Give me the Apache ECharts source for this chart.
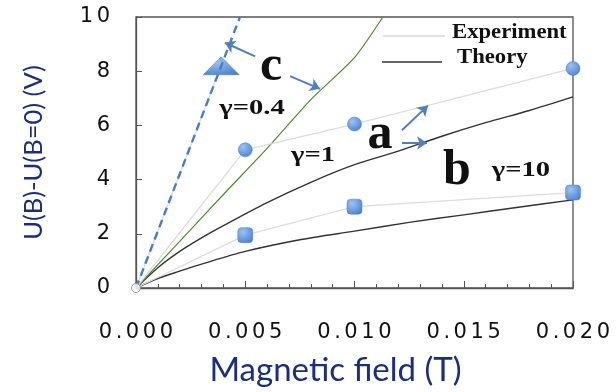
<!DOCTYPE html>
<html>
<head>
<meta charset="utf-8">
<script src="https://cdn.jsdelivr.net/npm/echarts@6/dist/echarts.min.js"></script>
<style>
  html, body { margin: 0; padding: 0; background: #fff; }
  #chart { width: 616px; height: 392px; }
</style>
</head>
<body>
<div id="chart"></div>
<script>
// Hall voltage vs. magnetic field: measured points and model curves

// axis ticks
const xTicks = [0.000, 0.005, 0.010, 0.015, 0.020];
const yTicks = [0, 2, 4, 6, 8, 10];

// Measured points [B (T), ΔU (V)]
const expA = [[0, 0], [0.005, 5.1], [0.010, 6.05], [0.020, 8.1]];
const expB = [[0, 0], [0.005, 1.95], [0.010, 3.0], [0.020, 3.52]];
const expC = [[0, 0], [0.0039, 8.2]];

// Model curves
const theoryA = [[0, 0], [0.001, 0.75], [0.002, 1.35], [0.003, 1.85], [0.004, 2.3],
  [0.006, 3.15], [0.008, 3.9], [0.010, 4.55], [0.012, 5.05], [0.014, 5.6],
  [0.016, 6.1], [0.018, 6.55], [0.020, 7.05]];
const theoryB = [[0, 0], [0.001, 0.35], [0.002, 0.62], [0.003, 0.88], [0.005, 1.35],
  [0.0075, 1.78], [0.010, 2.1], [0.0125, 2.42], [0.015, 2.7], [0.0175, 2.98],
  [0.020, 3.25]];
const theoryGreen = [[0, 0], [0.002, 1.72], [0.004, 3.45], [0.006, 5.15],
  [0.008, 6.95], [0.010, 8.5], [0.0113, 10]];
const theoryC = [[0, 0], [0.00476, 10]];

// Annotation texts
const annoText = ['c', 'a', 'b', 'γ=0.4', 'γ=1', 'γ=10'];
const legendNames = ['Experiment', 'Theory'];

// Annotation placement (data units) and type sizes
const annoAt = [[0.00618, 8.15], [0.01117, 5.64], [0.01469, 4.31],
  [0.00531, 6.62], [0.0081, 4.91], [0.01762, 4.33]];
const annoSize = [50, 50, 50, 22, 22, 22];
const annoStretch = [1, 1, 1, 1.3, 1.3, 1.3];
const arrowAt = [
  [[0.00545, 8.55], [0.00407, 9.05]],
  [[0.00705, 7.82], [0.00842, 7.35]],
  [[0.01217, 5.82], [0.01336, 6.73]],
  [[0.01217, 5.35], [0.01332, 5.35]]
];

// tick labels are set in fixed-width cells, one per character
const cells = s => s.split('').map(ch => ch === '.' ? '{p|.}' : '{d|' + ch + '}').join('');
const tickFont = { fontFamily: '"DejaVu Sans"', fontSize: 21, color: '#111' };
const tickRich = {
  d: Object.assign({ width: 17, align: 'center' }, tickFont),
  p: Object.assign({ width: 10, align: 'center' }, tickFont)
};

const markerFill = new echarts.graphic.RadialGradient(0.35, 0.3, 0.8, [
  { offset: 0, color: '#9cc3f2' },
  { offset: 1, color: '#4a80cf' }
]);

const serif = '"Liberation Serif", "Times New Roman", serif';
const navy = '#1b2d7e';
const arrowBlue = '#4f7fbf';

// first point of each measured set sits at the origin without a marker
const noOrigin = pts => pts.map(p => (p[0] === 0 && p[1] === 0) ? { value: p, symbol: 'none' } : p);

const chart = echarts.init(document.getElementById('chart'), null, { renderer: 'canvas' });

const markerStyle = { color: markerFill, borderColor: '#4a7cc4', borderWidth: 0.5 };

chart.setOption({
  animation: false,
  backgroundColor: '#fff',
  grid: {
    left: 136, right: 43, top: 17, bottom: 100,
    show: true, borderColor: '#555', borderWidth: 1.3, backgroundColor: 'transparent'
  },
  xAxis: {
    type: 'value', min: xTicks[0], max: xTicks[xTicks.length - 1],
    interval: xTicks[1] - xTicks[0],
    name: 'Magnetic field (T)', nameLocation: 'middle', nameGap: 66,
    nameTextStyle: { fontFamily: 'Lato', fontSize: 33, color: navy, padding: [0, 38, 0, 0] },
    axisLine: { lineStyle: { color: '#555', width: 1.3 } },
    axisTick: { inside: true, length: 7, lineStyle: { color: '#555' } },
    minorTick: { show: true, splitNumber: 5, length: 4, lineStyle: { color: '#555' } },
    splitLine: { show: false },
    axisLabel: {
      margin: 34, rich: tickRich,
      formatter: v => cells(v.toFixed(3))
    }
  },
  yAxis: {
    type: 'value', min: yTicks[0], max: yTicks[yTicks.length - 1],
    interval: yTicks[1] - yTicks[0],
    name: 'U(B)-U(B=0) (V)', nameLocation: 'middle', nameGap: 89,
    nameTextStyle: { fontFamily: 'Lato', fontSize: 25.5, color: navy },
    axisLine: { lineStyle: { color: '#555', width: 1.3 } },
    axisTick: { inside: true, length: 6, lineStyle: { color: '#555' } },
    splitLine: { show: false },
    axisLabel: {
      margin: 24, rich: tickRich,
      formatter: v => cells(String(v))
    }
  },
  series: [
    { type: 'line', data: theoryB, showSymbol: false, smooth: 0.3, lineStyle: { color: '#333', width: 1.4 }, z: 2 },
    { type: 'line', data: theoryA, showSymbol: false, smooth: 0.3, lineStyle: { color: '#333', width: 1.4 }, z: 2 },
    { type: 'line', data: theoryGreen, showSymbol: false, smooth: 0.2, lineStyle: { color: '#4f8a2c', width: 1.2 }, z: 2 },
    {
      type: 'line', data: noOrigin(expA), symbol: 'circle', symbolSize: 14,
      lineStyle: { color: '#dcdcdc', width: 1.3 }, itemStyle: markerStyle, z: 4
    },
    {
      type: 'line', data: noOrigin(expB), symbol: 'roundRect', symbolSize: 15,
      lineStyle: { color: '#dcdcdc', width: 1.3 }, itemStyle: markerStyle, z: 4
    },
    {
      type: 'line', data: noOrigin(expC), symbol: 'triangle', symbolSize: [36, 18],
      lineStyle: { color: '#dcdcdc', width: 1.3 }, itemStyle: markerStyle, z: 4
    },
    { type: 'line', data: theoryC, showSymbol: false, lineStyle: { color: '#4a7dc0', width: 2.4, type: [8, 5] }, z: 5 },
    // open ring marking the common origin
    {
      type: 'scatter', data: [[0, 0]], symbol: 'circle', symbolSize: 9,
      itemStyle: { color: '#fff', borderColor: '#888', borderWidth: 1 }, z: 6
    },
    // pointer arrows
    {
      type: 'line', data: [], silent: true,
      markLine: {
        silent: true, symbol: ['none', 'arrow'], symbolSize: 10,
        label: { show: false },
        lineStyle: { color: arrowBlue, width: 2, type: 'solid' },
        emphasis: { disabled: true },
        data: arrowAt.map(a => [{ coord: a[0] }, { coord: a[1] }])
      },
      z: 7
    }
  ]
});

// text annotations and the key, placed through the axes
const texts = annoAt.map((p, i) => {
  const [px, py] = chart.convertToPixel({ gridIndex: 0 }, p);
  return {
    type: 'text', x: px, y: py, scaleX: annoStretch[i], z: 20,
    style: {
      text: annoText[i], x: 0, y: 0, align: 'center', verticalAlign: 'middle',
      font: 'bold ' + annoSize[i] + 'px ' + serif, fill: '#111'
    }
  };
});

chart.setOption({
  graphic: texts.concat([
    { type: 'line', shape: { x1: 383, y1: 36, x2: 445, y2: 36 }, style: { stroke: '#d9d9d9', lineWidth: 1.5 }, z: 10 },
    { type: 'text', x: 452, y: 33, scaleX: 1.08, z: 10,
      style: { text: legendNames[0], x: 0, y: 0, verticalAlign: 'middle', font: 'bold 21px ' + serif, fill: '#111' } },
    { type: 'line', shape: { x1: 382, y1: 62, x2: 442, y2: 62 }, style: { stroke: '#333', lineWidth: 1.5 }, z: 10 },
    { type: 'text', x: 457, y: 58, scaleX: 1.08, z: 10,
      style: { text: legendNames[1], x: 0, y: 0, verticalAlign: 'middle', font: 'bold 21px ' + serif, fill: '#111' } }
  ])
});
</script>
</body>
</html>
